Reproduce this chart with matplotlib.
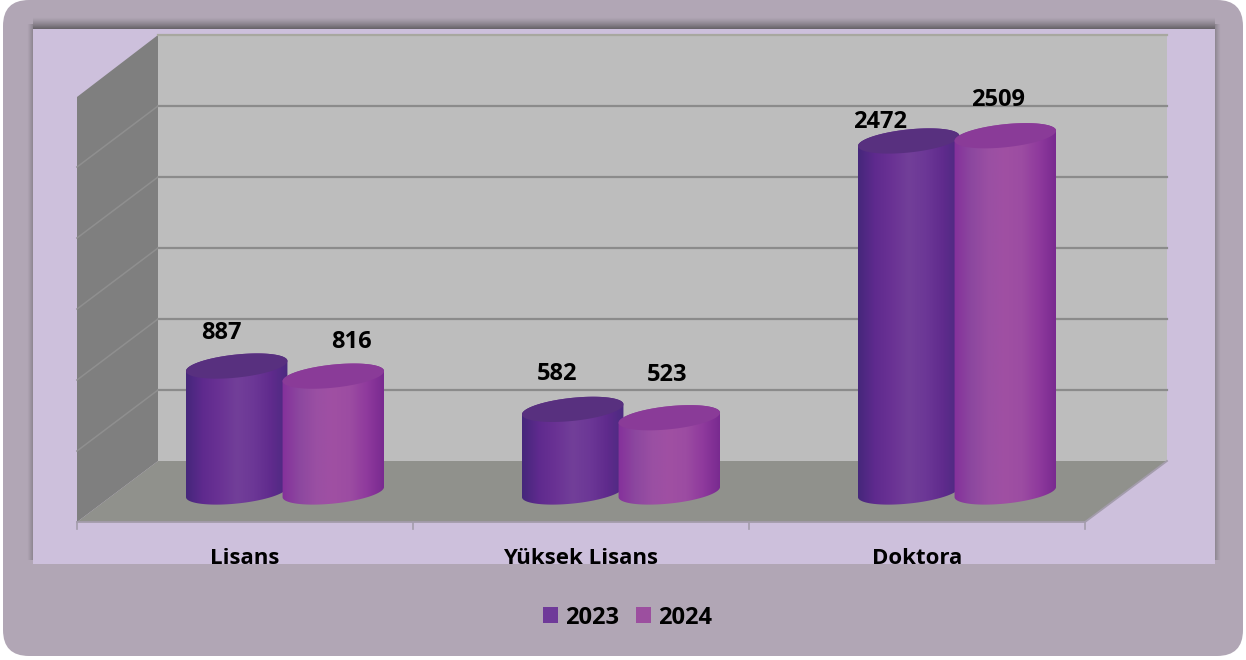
# Recreated 3D-look cylinder chart (Lisans / Yuksek Lisans / Doktora)
import numpy as np
import matplotlib
matplotlib.use("Agg")
import matplotlib.pyplot as plt
from matplotlib.colors import LinearSegmentedColormap
from matplotlib.patches import FancyBboxPatch, Patch, Polygon, Rectangle

# -----------------------------------------------------------
# Data
# -----------------------------------------------------------
categories = ["Lisans", "Yüksek Lisans", "Doktora"]
series_names = ["2023", "2024"]
values_2023 = [887, 582, 2472]
values_2024 = [816, 523, 2509]
grid_values = [0, 500, 1000, 1500, 2000, 2500, 3000]

# manual label offsets in pixels, the labels were hand placed in the original
label_offsets_2023 = [(-15, 33), (-16, 35), (-29, 19)]
label_offsets_2024 = [(18, 34), (-2, 43), (-7, 36)]

# -----------------------------------------------------------
# Scales and style
# -----------------------------------------------------------
W, H = 1246, 660
PX_PER_CAT = 336.0
PX_PER_UNIT = 0.142
X0, Y0 = 285.0, 492.0      # pixel of category 0, value 0
BAR_OFFSET = 48.3 / PX_PER_CAT
A, B, TILT = 51.0, 11.5, np.radians(6)

PANEL = "#b1a6b5"
LILAC = "#cdc0dc"
BACK_WALL = "#bdbdbd"
LEFT_WALL = "#7f7f7f"
FLOOR = "#90918c"
FONT = "Open Sans"
FS = 17
FS_CAT = 16

cmap_2023 = LinearSegmentedColormap.from_list(
    "c23", ["#45277b", "#5f2a8e", "#6a3294", "#723f99", "#6c3796", "#602b8d", "#4b2a80"])
cmap_2024 = LinearSegmentedColormap.from_list(
    "c24", ["#85309b", "#8c479f", "#9a4fa3", "#a050a3", "#9c4ca2", "#8f3a9d", "#792a90"])
top_2023 = "#58307f"
top_2024 = "#8a3b98"

fig = plt.figure(figsize=(W / 100, H / 100), dpi=100, facecolor="white")

# -----------------------------------------------------------
# Background axes in pixels: panel, plot area, walls, floor
# -----------------------------------------------------------
bg = fig.add_axes([0, 0, 1, 1], zorder=1)
bg.set_xlim(0, W)
bg.set_ylim(H, 0)
bg.axis("off")

bg.add_patch(FancyBboxPatch((3, 0), 1240, 656, boxstyle="round,pad=0,rounding_size=26",
                            fc=PANEL, ec="none"))


def shadow(extent, axis, reverse, strength):
    n = 24
    alpha = np.linspace(0, 1, n) ** 1.3 * strength
    if reverse:
        alpha = alpha[::-1]
    rgba = np.zeros((n, 1, 4)) if axis == 0 else np.zeros((1, n, 4))
    rgba[..., :3] = 0.22
    rgba[..., 3] = alpha.reshape(rgba.shape[:2])
    bg.imshow(rgba, extent=extent, aspect="auto", interpolation="bilinear", zorder=1)


shadow((33, 1215, 29, 17), 0, False, 0.62)
shadow((27, 33, 560, 24), 1, False, 0.3)
shadow((1215, 1221, 560, 24), 1, True, 0.3)
bg.set_xlim(0, W)
bg.set_ylim(H, 0)

plot_area = Rectangle((33, 29), 1182, 535, fc=LILAC, ec="none", zorder=2)
bg.add_patch(plot_area)

bg.add_patch(Polygon([(158, 35), (1167, 35), (1167, 461), (158, 461)], fc=BACK_WALL, ec="none", zorder=3))
bg.add_patch(Polygon([(77, 97), (158, 35), (158, 461), (77, 522)], fc=LEFT_WALL, ec="none", zorder=3))
bg.add_patch(Polygon([(158, 461), (1167, 461), (1085, 522), (77, 522)], fc=FLOOR, ec="none", zorder=3))

for v in grid_values[1:]:
    y_back = 461 - v * PX_PER_UNIT
    y_front = 522 - v * PX_PER_UNIT
    bg.plot([158, 1167], [y_back, y_back], color="#8b8b8b" if v < 3000 else "#a8a8a0", lw=1.6, zorder=4)
    if v < 3000:
        bg.plot([77, 158], [y_front, y_back], color="#8f8f8f", lw=1.1, zorder=4)

# floor edge and category ticks
bg.plot([77, 1085, 1167], [522, 522, 461], color="#a39cab", lw=1.3, zorder=4)
for x in [77, 413, 749, 1085]:
    bg.plot([x, x], [522, 529], color="#a39cab", lw=1.2, zorder=4)

# -----------------------------------------------------------
# Chart axes: x = category index, y = value
# -----------------------------------------------------------
ax = fig.add_axes([0, 0, 1, 1], zorder=2)
ax.patch.set_alpha(0)
ax.axis("off")
xlim = ((0 - X0) / PX_PER_CAT, (W - X0) / PX_PER_CAT)
ylim = ((Y0 - H) / PX_PER_UNIT, Y0 / PX_PER_UNIT)


def ellipse_arc(cx, v, t):
    ox = A * np.cos(t) * np.cos(TILT) - B * np.sin(t) * np.sin(TILT)
    oy = A * np.cos(t) * np.sin(TILT) + B * np.sin(t) * np.cos(TILT)
    return np.column_stack([cx + ox / PX_PER_CAT, v + oy / PX_PER_UNIT])


def cylinder(cx, value, cmap, top_color, z):
    t0 = np.arctan(-B * np.tan(TILT) / A)
    upper = np.linspace(t0, t0 + np.pi, 60)
    lower = np.linspace(t0 + np.pi, t0 + 2 * np.pi, 60)
    outline = np.vstack([ellipse_arc(cx, value, upper), ellipse_arc(cx, 0, lower)])
    body = Polygon(outline, closed=True, fc="none", ec="none", zorder=z)
    ax.add_patch(body)
    half = A / PX_PER_CAT
    grad = np.linspace(0, 1, 256).reshape(1, -1)
    im = ax.imshow(grad, cmap=cmap, aspect="auto", zorder=z,
                   extent=(cx - half, cx + half, -200, value + 200))
    im.set_clip_path(body)
    whole = np.linspace(0, 2 * np.pi, 120)
    ax.add_patch(Polygon(ellipse_arc(cx, value, whole), closed=True, fc=top_color, ec="none", zorder=z + 0.1))


for i in range(len(categories)):
    cylinder(i - BAR_OFFSET, values_2023[i], cmap_2023, top_2023, 3 + i)
    cylinder(i + BAR_OFFSET, values_2024[i], cmap_2024, top_2024, 3.5 + i)

    for cx, val, off in [(i - BAR_OFFSET, values_2023[i], label_offsets_2023[i]),
                         (i + BAR_OFFSET, values_2024[i], label_offsets_2024[i])]:
        ax.text(cx + off[0] / PX_PER_CAT, val + off[1] / PX_PER_UNIT, str(val),
                ha="center", va="center", fontsize=FS, fontweight="bold",
                family=FONT, color="black", zorder=10)

    # category labels are cut by the lower edge of the plot area
    label = ax.text(i - 40 / PX_PER_CAT, (Y0 - 564) / PX_PER_UNIT, categories[i],
                    ha="center", va="baseline", fontsize=FS_CAT, fontweight="bold",
                    family=FONT, color="black", zorder=10, clip_on=True)
    label.set_clip_path(plot_area)

ax.set_xlim(*xlim)
ax.set_ylim(*ylim)

# -----------------------------------------------------------
# Legend
# -----------------------------------------------------------
handles = [Patch(fc="#6f3a99", ec="none", label=series_names[0]),
           Patch(fc="#9c4f9f", ec="none", label=series_names[1])]
ax.legend(handles=handles, ncol=2, frameon=False, loc="center",
          bbox_to_anchor=(627.5 / W, 1 - 617.5 / H), bbox_transform=fig.transFigure,
          handlelength=0.64, handleheight=0.64, handletextpad=0.3, columnspacing=0.72,
          prop={"family": FONT, "weight": "bold", "size": FS})

fig.savefig("out.png", dpi=100)
